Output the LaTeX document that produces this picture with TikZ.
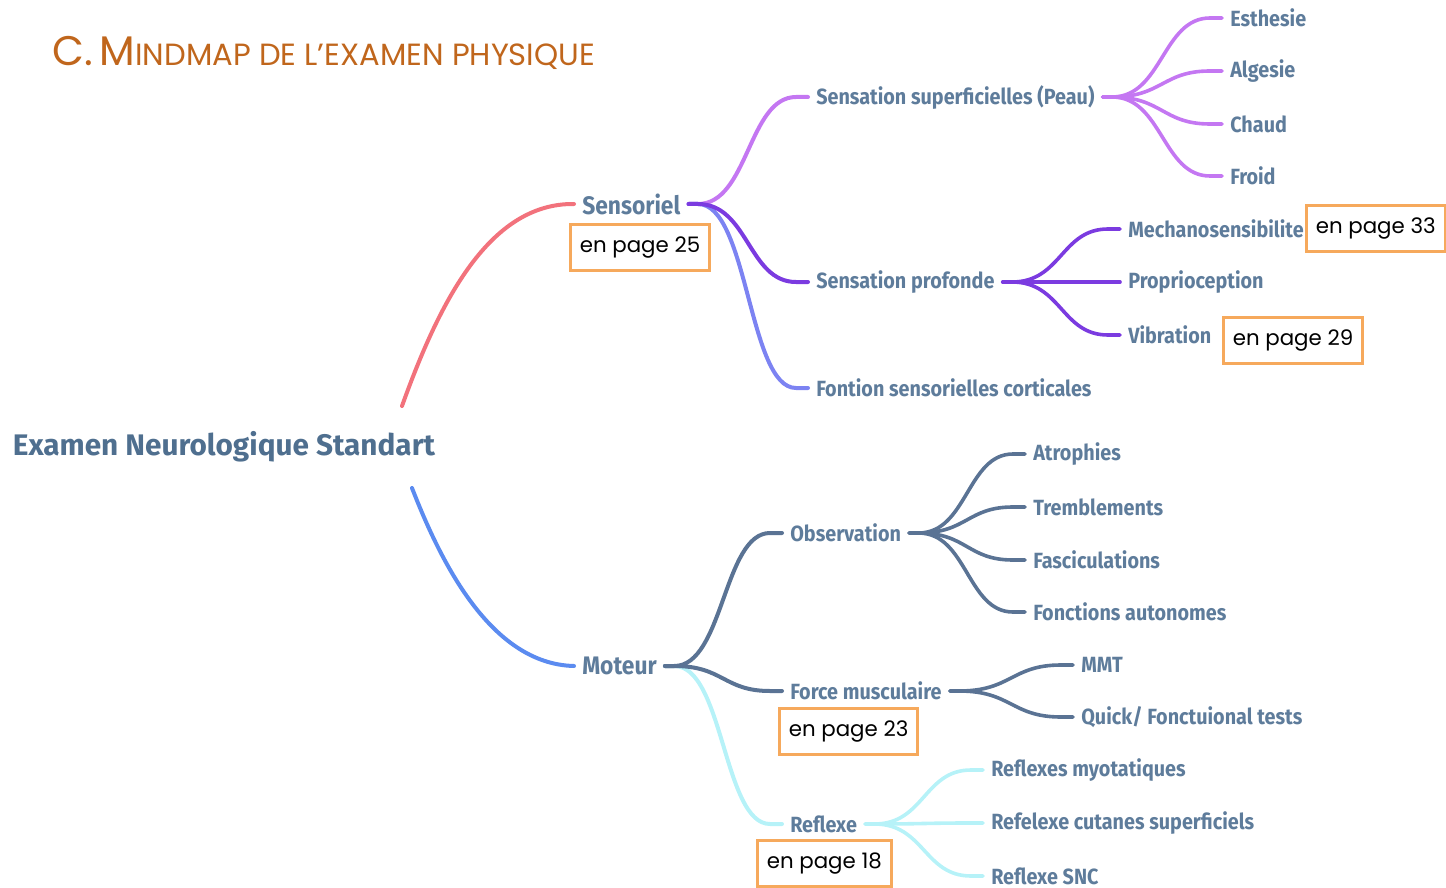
\documentclass[tikz,border=0pt]{standalone}
\usepackage{fontspec}
\usetikzlibrary{calc}
\setmainfont{Fira Sans}
\newfontfamily\labfont[FakeStretch=0.9]{Fira Sans}
\newfontfamily\rootfont[FakeStretch=1.0]{Fira Sans}
\newfontfamily\titlefont{Poppins}
\newfontfamily\boxfont{Poppins}
\definecolor{txt}{HTML}{5E7C9B}
\definecolor{roottxt}{HTML}{4F6F8F}
\definecolor{ttl}{HTML}{C0661C}
\definecolor{coral}{HTML}{F2727C}
\definecolor{motblue}{HTML}{5B8BF0}
\definecolor{lilac}{HTML}{C477F2}
\definecolor{violet}{HTML}{7B3BE0}
\definecolor{peri}{HTML}{7C83F2}
\definecolor{slate}{HTML}{5A7394}
\definecolor{cyanl}{HTML}{B6F2F8}
\definecolor{boxor}{HTML}{F6A95C}
\tikzset{
  lab/.style={font=\labfont\bfseries\fontsize{16.5pt}{19pt}\selectfont, text=txt, inner xsep=6pt, inner ysep=2pt, anchor=west},
  labone/.style={lab, font=\labfont\bfseries\fontsize{19pt}{22pt}\selectfont},
  br/.style={line width=3pt, line cap=round},
  lf/.style={line width=2.7pt, line cap=round},
  cv/.style={to path={let \p1=(\tikztostart), \p2=(\tikztotarget) in
     -- ({\x1+7pt},\y1) .. controls ({(\x1+\x2)/2},\y1) and ({(\x1+\x2)/2},\y2) .. ({\x2-9pt},\y2) -- (\tikztotarget)}},
  pbox/.style={draw=boxor, line width=2.2pt, fill=white, font=\boxfont\fontsize{16pt}{18pt}\selectfont, text=black, inner xsep=7pt, minimum height=34.5pt, anchor=north west}
}
\begin{document}
\begin{tikzpicture}[x=0.75pt, y=-0.75pt]
\useasboundingbox (0,0) rectangle (1446,888);
% title
\node[anchor=base west, text=ttl, inner sep=0pt] (title) at (52,66)
  {\titlefont\fontsize{31pt}{34pt}\selectfont C.\,M\fontsize{23pt}{26pt}\selectfont INDMAP DE L’EXAMEN PHYSIQUE};
% root
\node[anchor=west, inner sep=8pt, text=roottxt, font=\rootfont\bfseries\fontsize{22.3pt}{26pt}\selectfont] (root) at (2,447) {Examen Neurologique Standart};
\coordinate (rup) at (402,406);
\coordinate (rdn) at (412,488);
% level 1
\node[labone] (sens) at (574,204) {Sensoriel};
\node[labone] (mot) at (574,666) {Moteur};
\draw[br, coral] (rup) .. controls (440,300) and (490,203) .. (sens.west);
\draw[br, motblue] (rdn) .. controls (440,560) and (490,664) .. (mot.west);
% level 2 sensoriel
\node[lab] (sup) at (808,97) {Sensation superficielles (Peau)};
\node[lab] (prof) at (808,282) {Sensation profonde};
\node[lab] (cort) at (808,388) {Fontion sensorielles corticales};
\draw[br, lilac] (sens.east) to[cv] (sup.west);
\draw[br, peri] (sens.east) to[cv] (cort.west);
\draw[br, violet] (sens.east) to[cv] (prof.west);
% level 3 superficielles
\node[lab] (esth) at (1222,18) {Esthesie};
\node[lab] (alg) at (1222,71) {Algesie};
\node[lab] (chaud) at (1222,124) {Chaud};
\node[lab] (froid) at (1222,176) {Froid};
\foreach \c in {esth,alg,chaud,froid} \draw[lf, lilac] (sup.east) to[cv] (\c.west);
% level 3 profonde
\node[lab] (mech) at (1120,229) {Mechanosensibilite};
\node[lab] (prop) at (1120,282) {Proprioception};
\node[lab] (vib) at (1120,335) {Vibration};
\foreach \c in {mech,prop,vib} \draw[lf, violet] (prof.east) to[cv] (\c.west);
% level 2 moteur
\node[lab] (obs) at (782,533) {Observation};
\node[lab] (force) at (782,691) {Force musculaire};
\node[lab] (refl) at (782,824) {Reflexe};
\draw[br, cyanl] (mot.east) to[cv] (refl.west);
\draw[br, slate] (mot.east) to[cv] (obs.west);
\draw[br, slate] (mot.east) to[cv] (force.west);
% level 3 observation
\node[lab] (atro) at (1025,454) {Atrophies};
\node[lab] (trem) at (1025,507) {Tremblements};
\node[lab] (fasc) at (1025,560) {Fasciculations};
\node[lab] (fonc) at (1025,612) {Fonctions autonomes};
\foreach \c in {atro,trem,fasc,fonc} \draw[lf, slate] (obs.east) to[cv] (\c.west);
% level 3 force
\node[lab] (mmt) at (1073,665) {MMT};
\node[lab] (quick) at (1073,717) {Quick/ Fonctuional tests};
\foreach \c in {mmt,quick} \draw[lf, slate] (force.east) to[cv] (\c.west);
% level 3 reflexe
\node[lab] (myo) at (983,770) {Reflexes myotatiques};
\node[lab] (cut) at (983,823) {Refelexe cutanes superficiels};
\node[lab] (snc) at (983,876) {Reflexe SNC};
\foreach \c in {myo,cut,snc} \draw[lf, cyanl] (refl.east) to[cv] (\c.west);
% page boxes
\node[pbox] (p25) at (569,223) {en page 25};
\node[pbox] (p33) at (1305,204) {en page 33};
\node[pbox] (p29) at (1222,316) {en page 29};
\node[pbox] (p23) at (778,707) {en page 23};
\node[pbox] (p18) at (756,839) {en page 18};
\end{tikzpicture}
\end{document}
